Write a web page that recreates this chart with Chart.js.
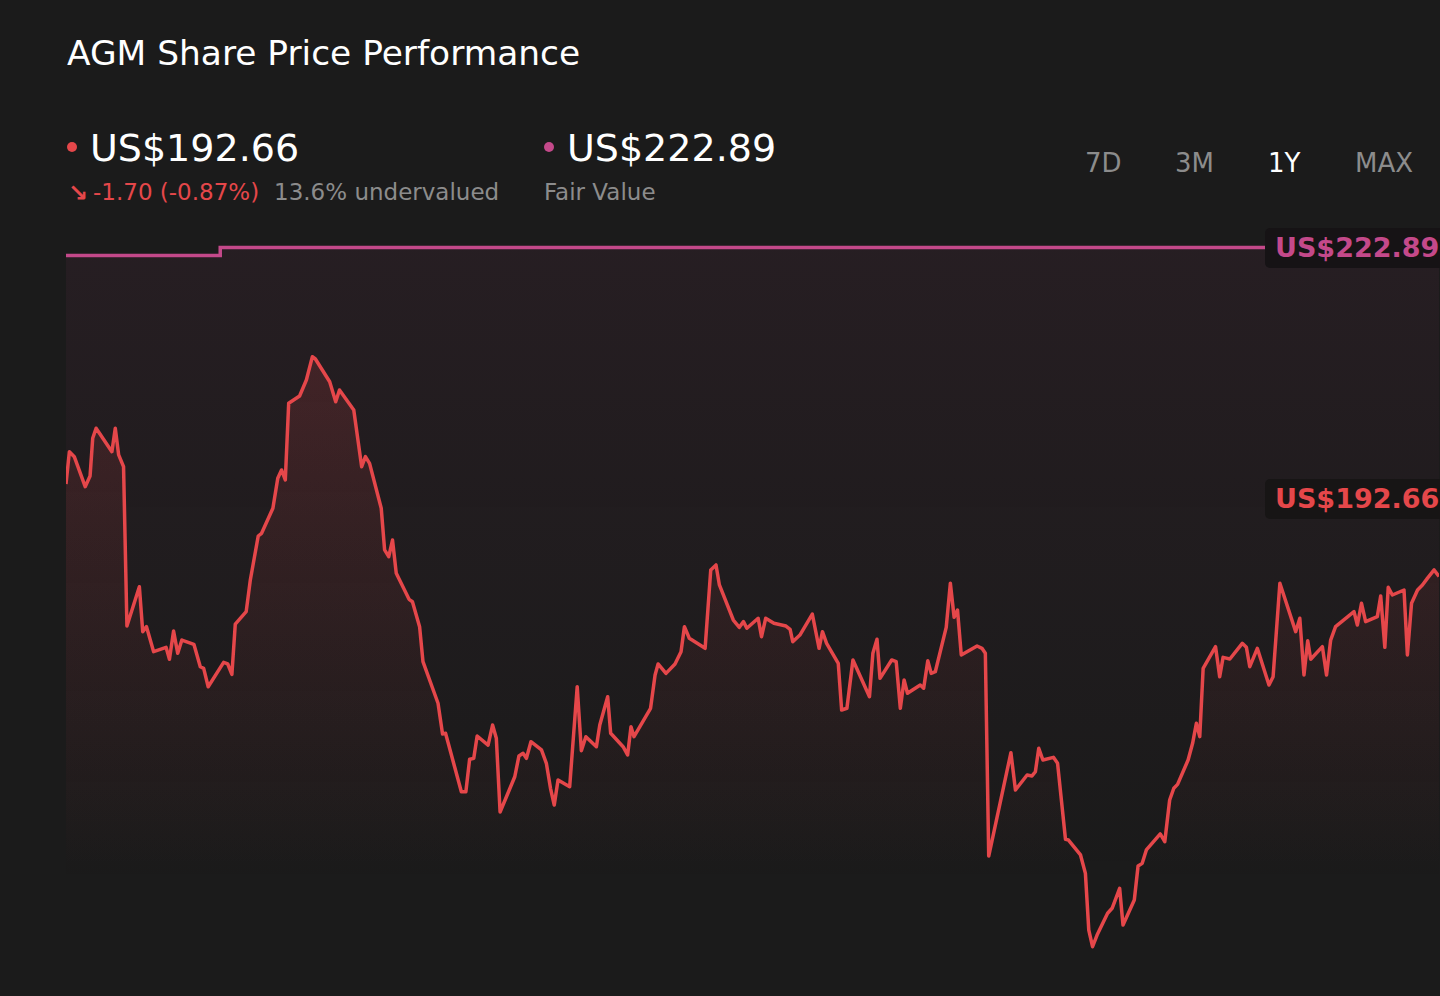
<!DOCTYPE html>
<html>
<head>
<meta charset="utf-8">
<title>AGM Share Price Performance</title>
<script src="https://cdn.jsdelivr.net/npm/chart.js@4.4.1/dist/chart.umd.min.js"></script>
<style>
    html, body {
        margin: 0;
        padding: 0;
        width: 1440px;
        height: 996px;
        overflow: hidden;
        background: #1b1b1b;
        font-family: "DejaVu Sans", sans-serif;
    }

    .txt {
        position: absolute;
        line-height: 1;
        white-space: nowrap;
    }

    .dot {
        position: absolute;
        width: 10px;
        height: 10px;
        border-radius: 50%;
    }

    .tag {
        position: absolute;
        left: 1265px;
        width: 220px;
        height: 40px;
        border-radius: 5px;
    }

    #chartBox {
        position: absolute;
        left: 66px;
        top: 230px;
        width: 1373px;
        height: 766px;
    }
</style>
</head>
<body>

<div class="txt" style="left:67px; top:36px; font-size:34.4px; color:#ffffff;">AGM Share Price Performance</div>

<!-- harga sekarang -->
<div class="dot" style="left:67px; top:142px; background:#e5474a;"></div>
<div class="txt" style="left:90px; top:129px; font-size:38px; color:#ffffff;">US$192.66</div>
<div class="txt" style="left:68px; top:181px; font-size:24px; font-weight:bold; color:#e5474a;">↘</div>
<div class="txt" style="left:93px; top:181px; font-size:23px; color:#e5474a;">-1.70 (-0.87%)</div>
<div class="txt" style="left:274px; top:181px; font-size:23px; color:#8c8c8c;">13.6% undervalued</div>

<!-- fair value -->
<div class="dot" style="left:544px; top:142px; background:#c4498a;"></div>
<div class="txt" style="left:567px; top:129px; font-size:38px; color:#ffffff;">US$222.89</div>
<div class="txt" style="left:544px; top:181px; font-size:23px; color:#8c8c8c;">Fair Value</div>

<!-- tombol periode -->
<div class="txt" style="left:1085px; top:150px; font-size:26px; color:#8c8c8c;">7D</div>
<div class="txt" style="left:1175px; top:150px; font-size:26px; color:#8c8c8c;">3M</div>
<div class="txt" style="left:1268px; top:150px; font-size:26px; color:#ffffff;">1Y</div>
<div class="txt" style="left:1355px; top:150px; font-size:26px; color:#8c8c8c;">MAX</div>

<div id="chartBox"><canvas id="priceChart"></canvas></div>

<div class="tag" style="top:228px; background:#161315;"></div>
<div class="txt" style="left:1275px; top:234px; font-size:27px; font-weight:bold; color:#c4498a;">US$222.89</div>
<div class="tag" style="top:479px; background:#171515;"></div>
<div class="txt" style="left:1275px; top:485px; font-size:27px; font-weight:bold; color:#e5474a;">US$192.66</div>

<script>
// =====================================
// DATA (hari sejak awal periode 1Y, harga US$)
// =====================================

const days = [
    0, 0.9, 2.2, 5.1, 6.4, 7.1, 8.0, 12.2, 13.1, 14.0,
    15.3, 16.2, 19.5, 20.4, 21.4, 23.3, 26.6, 27.5, 28.6, 29.7,
    30.8, 34.0, 35.7, 36.6, 37.8, 41.9, 43.0, 44.1, 45.0, 47.9,
    49.0, 51.1, 52.0, 55.0, 56.3, 57.3, 58.3, 59.2, 62.1, 63.9,
    65.5, 66.3, 70.1, 71.7, 72.7, 76.5, 78.6, 79.6, 80.7, 83.8,
    84.7, 85.8, 86.8, 87.8, 91.2, 92.1, 94.0, 94.9, 98.9, 100.1,
    100.9, 105.1, 106.3, 107.3, 108.4, 109.3, 112.2, 113.4, 114.4, 115.4,
    119.3, 120.4, 121.5, 122.4, 123.6, 126.4, 127.7, 128.8, 129.8, 130.8,
    133.9, 135.9, 137.0, 138.2, 141.0, 141.9, 144.0, 144.8, 148.1, 149.3,
    150.2, 151.0, 155.4, 156.6, 157.4, 159.5, 161.9, 163.5, 164.4, 165.7,
    169.9, 171.4, 172.8, 173.7, 177.4, 179.0, 180.1, 181.0, 184.0, 184.9,
    186.0, 188.2, 191.4, 192.5, 193.2, 195.1, 198.4, 200.2, 201.1, 202.2,
    205.3, 206.2, 207.6, 209.2, 213.6, 214.5, 215.6, 216.4, 219.5, 220.7,
    221.8, 222.8, 223.7, 227.1, 228.0, 229.1, 230.0, 231.1, 234.0, 235.1,
    236.1, 237.0, 238.0, 242.2, 243.5, 244.4, 245.3, 251.2, 252.4, 255.5,
    256.8, 257.7, 258.6, 259.7, 262.5, 263.6, 265.7, 266.5, 269.7, 271.0,
    271.9, 272.9, 274.1, 276.9, 278.1, 280.1, 281.0, 284.0, 285.0, 286.1,
    287.2, 290.9, 292.1, 293.4, 294.5, 295.5, 298.3, 299.5, 300.5, 301.4,
    302.3, 305.6, 306.7, 307.6, 309.4, 312.7, 313.8, 314.7, 316.7, 319.8,
    320.9, 322.7, 326.9, 328.0, 329.1, 330.1, 330.9, 334.0, 335.1, 336.2,
    337.5, 342.4, 343.3, 344.4, 345.5, 348.6, 349.5, 350.6, 351.5, 352.6,
    355.7, 356.6, 357.7, 359.3, 360.6, 361.9, 363.7, 365.0
];

const prices = [
    201.16, 204.13, 203.67, 200.91, 201.90, 205.36, 206.28, 204.13, 206.28, 203.83,
    202.75, 188.11, 191.72, 187.59, 188.05, 185.75, 186.15, 185.05, 187.65, 185.60,
    186.82, 186.43, 184.37, 184.22, 182.53, 184.77, 184.62, 183.67, 188.29, 189.43,
    192.34, 196.38, 196.63, 198.93, 201.68, 202.45, 201.53, 208.58, 209.25, 210.72,
    212.86, 212.65, 210.56, 208.72, 209.80, 207.96, 202.75, 203.67, 203.06, 198.93,
    195.10, 194.48, 196.01, 192.95, 190.56, 190.34, 188.05, 184.83, 181.01, 178.19,
    178.25, 172.88, 172.88, 175.86, 175.95, 178.00, 177.17, 179.01, 177.79, 171.02,
    174.26, 176.16, 176.41, 175.95, 177.48, 176.72, 175.49, 173.20, 171.66, 173.96,
    173.34, 182.53, 176.65, 177.94, 177.02, 179.01, 181.61, 178.25, 177.02, 176.26,
    178.86, 177.94, 180.55, 183.61, 184.62, 183.76, 184.62, 185.75, 188.05, 186.98,
    186.06, 193.26, 193.72, 191.88, 188.66, 187.99, 188.51, 187.90, 188.82, 187.13,
    188.82, 188.36, 188.11, 187.81, 186.67, 187.28, 189.21, 186.06, 187.59, 186.52,
    184.68, 180.39, 180.55, 184.99, 181.61, 185.60, 186.89, 183.30, 184.99, 184.83,
    180.55, 183.15, 181.93, 182.69, 182.39, 184.92, 183.76, 183.91, 187.99, 192.04,
    188.91, 189.58, 185.45, 186.27, 186.06, 185.60, 166.97, 176.47, 173.04, 174.42,
    174.33, 174.72, 176.87, 175.80, 176.04, 175.49, 168.51, 168.44, 167.07, 165.38,
    160.17, 158.64, 159.71, 161.71, 162.17, 164.01, 160.63, 162.93, 166.05, 166.30,
    167.53, 169.00, 168.29, 172.12, 173.20, 173.56, 175.80, 177.33, 179.17, 177.94,
    184.22, 186.21, 183.45, 185.23, 185.08, 186.52, 186.15, 184.37, 186.06, 182.69,
    183.45, 192.04, 187.59, 188.82, 183.61, 186.76, 185.05, 186.21, 183.61, 186.82,
    188.05, 189.43, 188.20, 190.20, 188.51, 188.97, 190.87, 186.15, 191.67, 190.96,
    191.42, 185.45, 190.20, 191.42, 191.88, 192.49, 193.26, 192.66
];

// Fair value naik sekali di hari ke-41
const fairDays = [0, 41, 365];
const fairValues = [222.15, 222.89, 222.89];

// Batas sumbu harga (sumbu disembunyikan)
const priceMin = 154.11;
const priceMax = 224.50;

// =====================================
// GRADIENT FILL
// =====================================

function makeFill(context, rgb, topAlpha, midAlpha) {

    const chart = context.chart;
    const area = chart.chartArea;

    if (!area) return "transparent";

    const g = chart.ctx.createLinearGradient(0, area.top, 0, area.top + area.height * 0.85);

    g.addColorStop(0, "rgba(" + rgb + "," + topAlpha + ")");
    g.addColorStop(0.45, "rgba(" + rgb + "," + midAlpha + ")");
    g.addColorStop(1, "rgba(" + rgb + ",0)");

    return g;

}

// =====================================
// CHART
// =====================================

const ctx = document.getElementById("priceChart").getContext("2d");

new Chart(ctx, {

    type: "line",

    data: {

        datasets: [

            {
                label: "AGM",
                data: days.map((d, i) => ({ x: d, y: prices[i] })),
                borderColor: "#e5474a",
                borderWidth: 3.5,
                backgroundColor: (c) => makeFill(c, "229,71,74", 0.2, 0.1),
                fill: "start",
                pointRadius: 0,
                tension: 0,
                borderJoinStyle: "round"
            },

            {
                label: "Fair Value",
                data: fairDays.map((d, i) => ({ x: d, y: fairValues[i] })),
                borderColor: "#c4498a",
                borderWidth: 3.5,
                backgroundColor: (c) => makeFill(c, "196,73,138", 0.07, 0.035),
                fill: "start",
                stepped: true,
                pointRadius: 0
            }

        ]

    },

    options: {

        responsive: true,
        maintainAspectRatio: false,
        animation: false,
        clip: false,

        layout: {
            padding: 0
        },

        plugins: {
            legend: { display: false },
            tooltip: { enabled: false }
        },

        scales: {

            x: {
                type: "linear",
                min: 0,
                max: 365,
                display: false
            },

            y: {
                min: priceMin,
                max: priceMax,
                display: false
            }

        }

    }

});
</script>
</body>
</html>
